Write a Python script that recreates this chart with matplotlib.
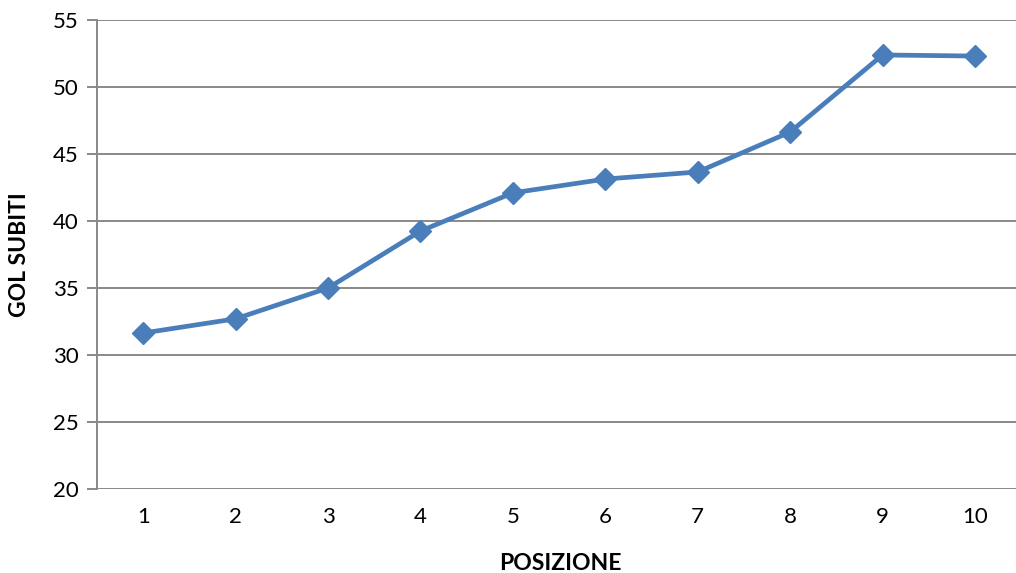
import matplotlib
matplotlib.use("Agg")
import matplotlib.pyplot as plt

positions = [1, 2, 3, 4, 5, 6, 7, 8, 9, 10]
gol_subiti = [31.64, 32.7, 35.0, 39.25, 42.1, 43.13, 43.66, 46.64, 52.39, 52.31]
y_ticks = [20, 25, 30, 35, 40, 45, 50, 55]

plt.rcParams['font.family'] = ['Lato', 'DejaVu Sans']

W, H = 1016, 573
fig = plt.figure(figsize=(W / 100, H / 100), dpi=100)
left, right, top, bottom = 97, 1016, 20, 489
ax = fig.add_axes([left / W, 1 - bottom / H, (right - left) / W, (bottom - top) / H])

grid_c = '#898989'
ax.set_ylim(20, 55)
ax.set_xlim(0.5, 10 + (1016 - 975) / 92.44)
ax.set_yticks(y_ticks)
ax.set_xticks(positions)
ax.set_xticklabels([str(p) for p in positions])
ax.yaxis.grid(True, color=grid_c, linewidth=1.4)
ax.set_axisbelow(True)
for s in ['top', 'right', 'bottom']:
    ax.spines[s].set_visible(False)
ax.spines['left'].set_color(grid_c)
ax.spines['left'].set_linewidth(1.4)
ax.tick_params(axis='y', length=7, width=1.4, color=grid_c, labelsize=16, pad=6)
ax.tick_params(axis='x', length=0, labelsize=16, pad=13)

ax.plot(positions, gol_subiti, color='#4A7EBB', linewidth=3.4, marker='D',
        markersize=11, markerfacecolor='#4A7EBB', markeredgecolor='#4A7EBB',
        clip_on=False, zorder=3)

fig.text(560 / W, 1 - 563 / H, 'POSIZIONE', ha='center', va='center',
         fontsize=16.5, fontweight='bold')
fig.text(20 / W, 1 - 255 / H, 'GOL SUBITI', ha='center', va='center',
         rotation=90, fontsize=16.5, fontweight='bold')

fig.savefig('out.png', dpi=100)
